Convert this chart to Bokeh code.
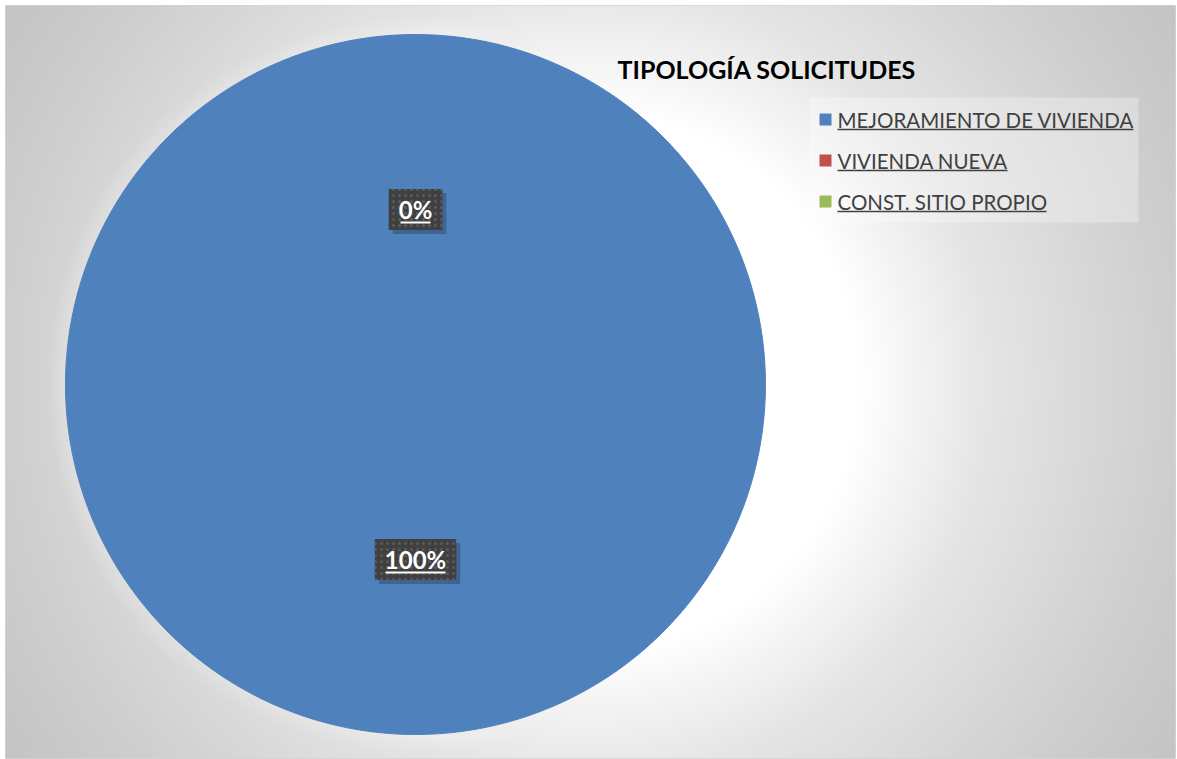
import numpy as np
from bokeh.plotting import figure
from bokeh.models import Range1d, ColumnDataSource
from bokeh.core.properties import value
from bokeh.embed import file_html
from bokeh.resources import INLINE

# ---- data ----
categories = ["MEJORAMIENTO DE VIVIENDA", "VIVIENDA NUEVA", "CONST. SITIO PROPIO"]
values = [100, 0, 0]
colors = ["#4F81BD", "#C0504D", "#9BBB59"]
chart_title = "TIPOLOGÍA SOLICITUDES"

# ---- layout / style ----
X0, X1, Y0, Y1 = 5, 1175, 5, 758          # data space ~ reference pixel space
def fy(yref):                              # reference y (top-down) -> data y (bottom-up)
    return (Y0 + Y1) - yref

CX, CY, R = 415, fy(384), 350
FONT = value("Lato")

p = figure(width=1176, height=759, x_range=Range1d(X0, X1), y_range=Range1d(Y0, Y1),
           output_backend="svg", toolbar_location=None,
           min_border_left=5, min_border_right=1, min_border_top=5, min_border_bottom=1)
p.axis.visible = False
p.grid.visible = False
p.outline_line_color = "#d4d4d4"
p.border_fill_color = "white"

# background radial gradient
nx, ny = 585, 377
xs = np.linspace(X0, X1, nx)
ys = np.linspace(Y0, Y1, ny)
gx, gy = np.meshgrid(xs, ys)
rr = np.hypot(gx - 590, gy - fy(382))
g = np.interp(rr, [0, 270, 400, 580, 700], [255, 255, 229, 207, 196]).astype(np.uint32)
img = (255 << 24) | (g << 16) | (g << 8) | g
p.image_rgba(image=[img.astype(np.uint32)], x=X0, y=Y0, dw=X1 - X0, dh=Y1 - Y0)

# soft white glow around the pie
for k in range(6):
    p.circle(x=CX, y=CY, radius=R + 2 + k * 3, fill_color="white", fill_alpha=0.05, line_color=None)

# wedges
total = float(sum(values))
fracs = [v / total for v in values]
starts, ends, cum = [], [], 0.0
for f in fracs:
    s = np.pi / 2 - 2 * np.pi * cum
    e = s - 2 * np.pi * f
    starts.append(s)
    ends.append(e)
    cum += f
nz = [i for i, v in enumerate(values) if v > 0]   # zero slices have no area
FULL = 2 * np.pi - 1e-4                            # keep a full slice from collapsing to nothing
src = ColumnDataSource(dict(cat=[categories[i] for i in nz], val=[values[i] for i in nz],
                            color=[colors[i] for i in nz], start=[starts[i] for i in nz],
                            end=[starts[i] - min(starts[i] - ends[i], FULL) for i in nz]))
p.wedge(x=CX, y=CY, radius=R, start_angle="start", end_angle="end", direction="clock",
        fill_color="color", line_color="color", line_width=1, source=src)

# data labels (one per distinct position)
lab_x, lab_y, lab_t, seen = [], [], [], set()
for s, e, f in zip(starts, ends, fracs):
    m = (s + e) / 2
    lx, ly = CX + 0.5 * R * np.cos(m), CY + 0.5 * R * np.sin(m)
    key = (round(lx, 1), round(ly, 1))
    if key in seen:
        continue
    seen.add(key)
    lab_x.append(lx); lab_y.append(ly); lab_t.append(f"{round(f * 100)}%")
lsrc = ColumnDataSource(dict(x=lab_x, y=lab_y, t=lab_t,
                             x0=[x - len(t) * 15 / 2 for x, t in zip(lab_x, lab_t)],
                             x1=[x + len(t) * 15 / 2 for x, t in zip(lab_x, lab_t)],
                             yu=[y - 13 for y in lab_y]))
# shadow
p.text(x="x", y="y", text="t", source=lsrc, text_font=FONT, text_font_style="bold",
       text_font_size="24px", text_align="center", text_baseline="middle", text_alpha=0,
       x_offset=4, y_offset=4, background_fill_color="black", background_fill_alpha=0.22,
       padding=(10, 6))
p.text(x="x", y="y", text="t", source=lsrc, text_font=FONT, text_font_style="bold",
       text_font_size="24px", text_align="center", text_baseline="middle", text_color="white",
       background_fill_color="#404040", background_hatch_pattern="dot",
       background_hatch_color="#5a5a5a", background_hatch_scale=6, background_hatch_weight=1.5,
       padding=(10, 6))
p.segment(x0="x0", y0="yu", x1="x1", y1="yu", source=lsrc, line_color="white", line_width=2)

# title
p.text(x=[617], y=[fy(68)], text=[chart_title], text_font=FONT, text_font_style="bold",
       text_font_size="25px", text_color="black", text_align="left", text_baseline="middle")

# legend (drawn manually)
p.rect(x=973.5, y=fy(159.5), width=329, height=125, fill_color="white", fill_alpha=0.3, line_color=None)
row_y = [fy(119 + 41 * i) for i in range(len(categories))]
legend_underline_px = [296, 170, 209]
lgsrc = ColumnDataSource(dict(cat=categories, color=colors, y=row_y,
                              xu0=[837] * len(categories),
                              xu1=[837 + w for w in legend_underline_px],
                              yu=[y - 10 for y in row_y]))
p.scatter(x=825, y="y", marker="square", size=12, fill_color="color", line_color=None, source=lgsrc)
p.text(x=837, y="y", text="cat", source=lgsrc, text_font=FONT, text_font_size="20.5px",
       text_color="#404040", text_align="left", text_baseline="middle")
p.segment(x0="xu0", y0="yu", x1="xu1", y1="yu", source=lgsrc, line_color="#404040", line_width=1.5)

open("out.html", "w").write(file_html(p, INLINE))
